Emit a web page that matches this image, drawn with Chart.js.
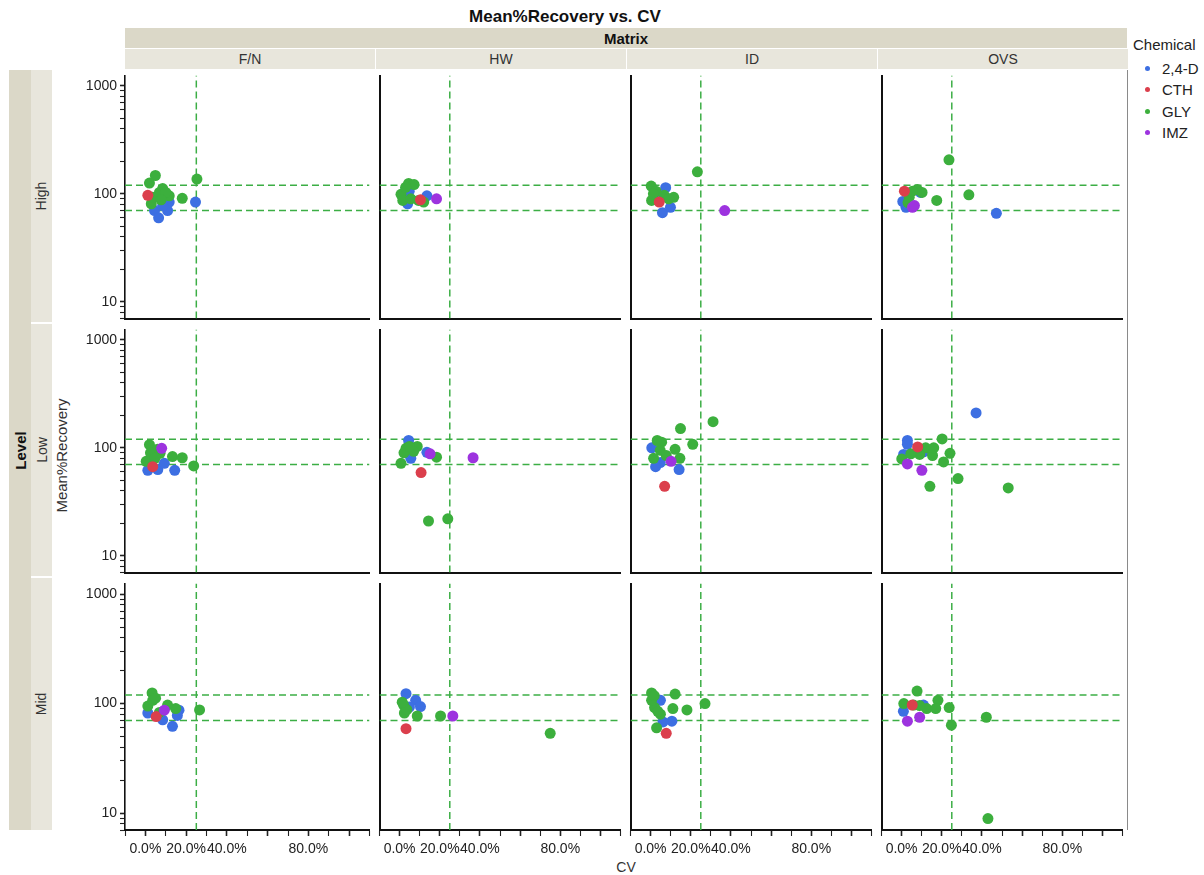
<!DOCTYPE html>
<html><head><meta charset="utf-8">
<script src="https://cdn.jsdelivr.net/npm/chart.js@4.4.1/dist/chart.umd.min.js"></script>
<style>
body{margin:0;background:#fff;font-family:Arial,"Liberation Sans",sans-serif;color:#222;}
#root{position:relative;width:1204px;height:875px;overflow:hidden;background:#fff;}
.box{position:absolute;display:flex;align-items:center;justify-content:center;color:#222;white-space:nowrap;}
.rot{transform:rotate(-90deg);white-space:nowrap;}
canvas{position:absolute;}
</style></head><body><div id="root"></div>
<script>
// ---------- categories / ticks ----------
const matrices = ['F/N', 'HW', 'ID', 'OVS'];
const levels = ['High', 'Low', 'Mid'];
const chemicals = ['2,4-D', 'CTH', 'GLY', 'IMZ'];
const chemColors = ['#3d6fe2', '#db3f4c', '#3caf3d', '#9d33df'];
const recoveryLimits = [70, 120];
const cvLimits = [25];
const cvTickLabels = [0, 20, 40, 80];
const recTickLabels = [10, 100, 1000];
const cvRange = [-10, 110];
const recRange = [7, 1250];

// ---------- data: [CV %, Mean%Recovery] ----------
const HIGH_FN_24D = [[24.6,84],[4.5,70],[6.5,60],[10.9,70],[11.7,84],[8.5,78]];
const HIGH_FN_CTH = [[1.2,97]];
const HIGH_FN_GLY = [[4.9,148],[2.0,126],[25.3,137],[8.5,112],[6.9,103],[11.7,96],[18.1,91],[2.9,81],[10,103],[3.6,93],[7.7,88]];
const HIGH_FN_IMZ = [];
const HIGH_HW_24D = [[2.4,103],[4.8,106],[4,81],[13.6,96]];
const HIGH_HW_CTH = [[10.4,88]];
const HIGH_HW_GLY = [[4.5,125],[7.2,122],[0.7,99],[1.6,87],[5.6,90],[9.4,87],[12,84],[3,115]];
const HIGH_HW_IMZ = [[18.4,90]];
const HIGH_ID_24D = [[5.9,67],[7.5,114],[9.9,75],[4.3,97]];
const HIGH_ID_CTH = [[4.3,84]];
const HIGH_ID_GLY = [[23.3,160],[0.3,118],[0.5,87],[11.5,93],[2.7,106],[6.8,97],[9,90],[1.4,100]];
const HIGH_ID_IMZ = [[36.9,70]];
const HIGH_OVS_24D = [[47.2,66],[0.6,85],[2.2,75],[9.4,103]];
const HIGH_OVS_CTH = [[1.4,106]];
const HIGH_OVS_GLY = [[23.6,207],[33.5,98],[17.5,87],[7.8,110],[10.2,103],[3.8,93],[5.4,106],[3.2,83]];
const HIGH_OVS_IMZ = [[5.4,75],[6.4,78]];

const LOW_FN_24D = [[1.2,62],[6.1,63],[9.3,72],[14.4,62]];
const LOW_FN_CTH = [[3.6,67]];
const LOW_FN_GLY = [[2.0,107],[6.0,97],[13.3,83],[18.1,81],[23.7,68],[0.4,75],[2.5,90],[7.2,89],[4.7,80]];
const LOW_FN_IMZ = [[8.0,99]];
const LOW_HW_24D = [[4.5,117],[13.6,91],[5.6,80]];
const LOW_HW_CTH = [[10.7,59]];
const LOW_HW_GLY = [[3.2,99],[8.8,103],[18.4,82],[14.4,21],[24.0,22],[0.7,72],[2.2,90],[7,93],[4.9,103]];
const LOW_HW_IMZ = [[15.2,88],[36.6,81]];
const LOW_ID_24D = [[14.2,63],[0.6,100],[2.5,67],[4.8,73]];
const LOW_ID_CTH = [[7.0,44]];
const LOW_ID_GLY = [[31.1,175],[14.9,151],[21.0,108],[12.2,97],[14.6,80],[3.3,117],[1.5,80],[5.5,113],[4.8,95],[7.8,85]];
const LOW_ID_IMZ = [[10.2,75]];
const LOW_OVS_24D = [[37.1,211],[2.9,117],[2.9,108],[11,92],[1,87]];
const LOW_OVS_CTH = [[8.0,102]];
const LOW_OVS_GLY = [[53.1,42.5],[28.1,52],[14.1,44],[0.1,79],[20.2,121],[24.1,89],[20.9,74],[15.4,85],[12,100],[9,87],[4.6,88],[16,100]];
const LOW_OVS_IMZ = [[10.1,62],[2.9,71]];

const MID_FN_24D = [[13.3,62],[16.5,87],[8.5,71],[1.2,82],[15.7,78]];
const MID_FN_CTH = [[5.3,76]];
const MID_FN_GLY = [[3.3,125],[26.6,87.5],[14.9,90],[10.9,97],[1.2,95],[3.6,107],[6.9,83],[5,112]];
const MID_FN_IMZ = [[9.3,87]];
const MID_HW_24D = [[3.2,123],[8.0,107],[10.4,94],[4.9,93]];
const MID_HW_CTH = [[3.2,59]];
const MID_HW_GLY = [[2.0,97],[2.4,82],[8.8,77],[20.4,77],[75.0,53.5],[3.6,88],[1.3,103]];
const MID_HW_IMZ = [[26.5,77]];
const MID_ID_24D = [[4.9,107],[10.6,69],[6.2,68]];
const MID_ID_CTH = [[7.8,53.5]];
const MID_ID_GLY = [[0.5,125],[12.2,122],[27.1,100],[18.1,87.5],[11.1,90],[3.0,60],[2.0,92],[0.5,107],[4.9,80],[3.6,85],[1.8,118]];
const MID_ID_IMZ = [];
const MID_OVS_24D = [[0.9,85],[10.9,97]];
const MID_OVS_CTH = [[5.3,97]];
const MID_OVS_GLY = [[7.7,130],[18.1,107],[23.7,92],[24.8,63.5],[42.2,75],[1.1,100],[6,97],[12.5,90],[17,90],[9,96],[43.0,8.9]];
const MID_OVS_IMZ = [[2.9,69],[9.0,75]];

const panelData = {
  'High': {'F/N':[HIGH_FN_24D,HIGH_FN_CTH,HIGH_FN_GLY,HIGH_FN_IMZ], 'HW':[HIGH_HW_24D,HIGH_HW_CTH,HIGH_HW_GLY,HIGH_HW_IMZ], 'ID':[HIGH_ID_24D,HIGH_ID_CTH,HIGH_ID_GLY,HIGH_ID_IMZ], 'OVS':[HIGH_OVS_24D,HIGH_OVS_CTH,HIGH_OVS_GLY,HIGH_OVS_IMZ]},
  'Low':  {'F/N':[LOW_FN_24D,LOW_FN_CTH,LOW_FN_GLY,LOW_FN_IMZ], 'HW':[LOW_HW_24D,LOW_HW_CTH,LOW_HW_GLY,LOW_HW_IMZ], 'ID':[LOW_ID_24D,LOW_ID_CTH,LOW_ID_GLY,LOW_ID_IMZ], 'OVS':[LOW_OVS_24D,LOW_OVS_CTH,LOW_OVS_GLY,LOW_OVS_IMZ]},
  'Mid':  {'F/N':[MID_FN_24D,MID_FN_CTH,MID_FN_GLY,MID_FN_IMZ], 'HW':[MID_HW_24D,MID_HW_CTH,MID_HW_GLY,MID_HW_IMZ], 'ID':[MID_ID_24D,MID_ID_CTH,MID_ID_GLY,MID_ID_IMZ], 'OVS':[MID_OVS_24D,MID_OVS_CTH,MID_OVS_GLY,MID_OVS_IMZ]}
};

// ---------- layout ----------
const FONT = 'Arial, "Liberation Sans", sans-serif';
const colLefts = [125, 376, 627, 878];
const rowTops = [70, 324, 578];
const PW = 250, PH = 252;
const refColor = '#3cae45';
const root = document.getElementById('root');

function box(text, l, t, w, h, css, rotate) {
  const d = document.createElement('div');
  d.className = 'box';
  d.style.left = l + 'px'; d.style.top = t + 'px';
  d.style.width = w + 'px'; d.style.height = h + 'px';
  Object.assign(d.style, css || {});
  const s = document.createElement('span');
  s.textContent = text;
  if (rotate) s.className = 'rot';
  d.appendChild(s);
  root.appendChild(d);
  return d;
}

// title
box('Mean%Recovery vs. CV', 360, 6, 410, 22, {fontSize: '17px', fontWeight: 'bold', color: '#111'});
// matrix strip
box('Matrix', 125, 28, 1002, 20, {background: '#dbd8c8', fontSize: '15px', fontWeight: 'bold', color: '#111'});
matrices.forEach((m, c) => box(m, colLefts[c], 49, 250, 20, {background: '#e8e6dc', fontSize: '14px', color: '#333'}));
// level strips
box('Level', 9, 70, 22, 760, {background: '#dbd8c8', fontSize: '15px', fontWeight: 'bold', color: '#111'}, true);
levels.forEach((lv, r) => box(lv, 31, rowTops[r], 21, PH, {background: '#e8e6dc', fontSize: '14px', color: '#333'}, true));
// axis titles
box('Mean%Recovery', 50, 380, 22, 150, {fontSize: '15px', color: '#333'}, true);
box('CV', 576, 858, 100, 18, {fontSize: '14px', color: '#333'});
// right frame line
const rl = document.createElement('div');
Object.assign(rl.style, {position: 'absolute', left: '1127px', top: '70px', width: '1px', height: '760px', background: '#8a8a8a'});
root.appendChild(rl);

// legend
box('Chemical', 1133, 34, 70, 20, {fontSize: '15px', color: '#222', justifyContent: 'flex-start'});
chemicals.forEach((ch, i) => {
  const y = 58 + i * 21.5;
  const dot = document.createElement('div');
  Object.assign(dot.style, {position: 'absolute', left: '1145px', top: (y + 7.5) + 'px', width: '5px', height: '5px', borderRadius: '50%', background: chemColors[i]});
  root.appendChild(dot);
  box(ch, 1162, y, 45, 20, {fontSize: '15px', color: '#222', justifyContent: 'flex-start'});
});

function intMantissa(v) {
  const e = Math.floor(Math.log10(v) + 1e-9);
  const m = v / Math.pow(10, e);
  return Math.abs(m - Math.round(m)) < 1e-6;
}

function makePanel(r, c) {
  const isLeft = c === 0, isBottom = r === 2;
  const padL = isLeft ? 60 : 2;
  const padB = isBottom ? 46 : 2;
  const cv = document.createElement('canvas');
  cv.width = PW + padL; cv.height = PH + padB;
  cv.style.left = (colLefts[c] - padL) + 'px';
  cv.style.top = rowTops[r] + 'px';
  cv.style.width = cv.width + 'px'; cv.style.height = cv.height + 'px';
  root.appendChild(cv);

  const sets = panelData[levels[r]][matrices[c]];
  const datasets = [];
  chemicals.forEach((ch, i) => {
    datasets.push({
      label: ch,
      data: sets[i].map(p => ({x: p[0], y: p[1]})),
      backgroundColor: chemColors[i], borderColor: chemColors[i], borderWidth: 0,
      pointRadius: 5.5, pointHoverRadius: 5.5,
      order: [3, 1, 2, 0][i]
    });
  });
  recoveryLimits.forEach(v => datasets.push({
    type: 'line', data: [{x: cvRange[0], y: v}, {x: cvRange[1], y: v}],
    borderColor: refColor, borderWidth: 1.5, borderDash: [7, 4], pointRadius: 0, fill: false, order: 10
  }));
  cvLimits.forEach(v => datasets.push({
    type: 'line', data: [{x: v, y: recRange[0]}, {x: v, y: recRange[1]}],
    borderColor: refColor, borderWidth: 1.5, borderDash: [7, 4], pointRadius: 0, fill: false, order: 10
  }));

  const zeroPad = s => { s.paddingLeft = 0; s.paddingRight = 0; s.paddingTop = 0; s.paddingBottom = 0; };

  new Chart(cv, {
    type: 'scatter',
    data: {datasets},
    options: {
      responsive: false, animation: false, devicePixelRatio: 1,
      events: [],
      layout: {padding: 0},
      plugins: {legend: {display: false}, tooltip: {enabled: false}, title: {display: false}},
      scales: {
        x: {
          type: 'linear', min: cvRange[0], max: cvRange[1],
          ticks: {
            display: isBottom, stepSize: 10, autoSkip: false, maxRotation: 0, minRotation: 0,
            padding: 5, color: '#222', font: {size: 14, family: FONT},
            callback: v => cvTickLabels.includes(Math.round(v)) ? Math.round(v).toFixed(1) + '%' : ''
          },
          grid: {
            display: isBottom, drawOnChartArea: false, drawTicks: true, tickLength: 6, tickColor: '#222',
            tickWidth: ctx => (ctx.tick && Math.round(ctx.tick.value) % 20 === 0) ? 1.6 : 1.1
          },
          border: {display: true, color: '#111', width: 2},
          afterFit: s => { s.height = padB; zeroPad(s); }
        },
        y: {
          type: 'logarithmic', min: recRange[0], max: recRange[1],
          afterBuildTicks: s => { s.ticks = s.ticks.filter(t => intMantissa(t.value)); },
          ticks: {
            display: isLeft, autoSkip: false, padding: 3, color: '#222', font: {size: 14, family: FONT},
            callback: v => recTickLabels.includes(Math.round(v)) ? String(Math.round(v)) : ''
          },
          grid: {
            display: isLeft, drawOnChartArea: false, drawTicks: true, tickLength: 5, tickColor: '#222',
            tickWidth: ctx => (ctx.tick && recTickLabels.includes(Math.round(ctx.tick.value))) ? 1.6 : 1.1
          },
          border: {display: true, color: '#111', width: isLeft ? 1.6 : 2},
          afterFit: s => { s.width = padL; zeroPad(s); }
        }
      }
    }
  });
}

for (let r = 0; r < levels.length; r++)
  for (let c = 0; c < matrices.length; c++) makePanel(r, c);
</script></body></html>
